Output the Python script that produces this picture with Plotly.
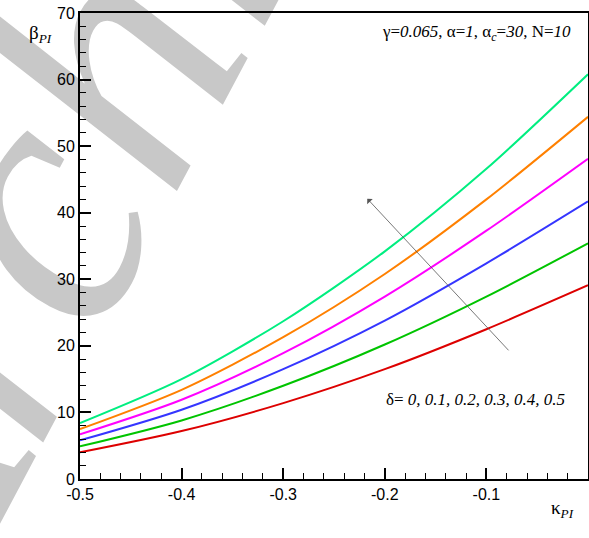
import plotly.graph_objects as go

kappa = [-0.5, -0.4, -0.3, -0.2, -0.1, 0.0]
beta_d00 = [4.0, 7.2, 11.4, 16.5, 22.5, 29.1]
beta_d01 = [4.9, 8.8, 14.0, 20.2, 27.4, 35.4]
beta_d02 = [5.8, 10.4, 16.5, 23.8, 32.4, 41.7]
beta_d03 = [6.7, 11.9, 18.9, 27.4, 37.3, 48.1]
beta_d04 = [7.5, 13.4, 21.3, 30.8, 42.0, 54.4]
beta_d05 = [8.4, 15.0, 23.7, 34.2, 46.6, 60.8]

series = [beta_d00, beta_d01, beta_d02, beta_d03, beta_d04, beta_d05]
names = ["δ=0", "δ=0.1", "δ=0.2", "δ=0.3", "δ=0.4", "δ=0.5"]
colors = ["#dd0000", "#00c400", "#3535ff", "#ff00ff", "#ff8000", "#00ee80"]

fig = go.Figure()

W, H = 589, 538
L, R, T, B = 80, 1, 13, 59
pw, ph = W - L - R, H - T - B

def px(x):
    return (x - L) / pw

def py(y):
    return 1 - (y - T) / ph

# watermark (drawn beneath axes and curves)
wx, wy = px(51), py(86)
fig.add_shape(
    type="rect", xref="paper", yref="paper",
    x0=wx - 0.001, x1=wx + 0.001, y0=wy - 0.001, y1=wy + 0.001,
    line=dict(width=0), fillcolor="rgba(0,0,0,0)", layer="below",
    label=dict(
        text="Archive", textangle=-62, textposition="middle center",
        font=dict(family="Liberation Serif", size=360, color="#c8c8c8", style="italic"),
    ),
)

for ys, nm, c in zip(series, names, colors):
    fig.add_trace(go.Scatter(
        x=kappa, y=ys, mode="lines", name=nm,
        line=dict(color=c, width=2, shape="spline", smoothing=0.8),
        showlegend=False,
    ))

fig.update_xaxes(
    range=[-0.5, 0], tickvals=[-0.5, -0.4, -0.3, -0.2, -0.1, 0],
    ticktext=["-0.5", "-0.4", "-0.3", "-0.2", "-0.1", "0"],
    ticks="inside", ticklen=11, tickwidth=2, tickcolor="black",
    minor=dict(dtick=0.02, ticks="inside", ticklen=6, tickwidth=1, tickcolor="black"),
    showline=True, linecolor="black", linewidth=2, mirror=True,
    showgrid=False, zeroline=False, automargin=False,
    tickfont=dict(family="Liberation Sans", size=16, color="black"),
)
fig.update_yaxes(
    range=[0, 70], tickvals=[0, 10, 20, 30, 40, 50, 60, 70],
    ticks="inside", ticklen=11, tickwidth=2, tickcolor="black",
    minor=dict(dtick=2, ticks="inside", ticklen=6, tickwidth=1, tickcolor="black"),
    showline=True, linecolor="black", linewidth=2, mirror=True,
    showgrid=False, zeroline=False, automargin=False,
    tickfont=dict(family="Liberation Sans", size=16, color="black"),
)

serif = "Liberation Serif"
fig.add_annotation(
    text="β<sub><i>PI</i></sub>", xref="paper", yref="paper",
    x=px(27), y=py(20), showarrow=False,
    font=dict(family=serif, size=19, color="black"),
)
fig.add_annotation(
    text="κ<sub><i>PI</i></sub>", xref="paper", yref="paper",
    x=px(576), y=py(523), showarrow=False,
    font=dict(family=serif, size=19, color="black"),
)
fig.add_annotation(
    text="γ=<i>0.065</i>, α=<i>1</i>, α<sub><i>c</i></sub>=<i>30</i>, N=<i>10</i>",
    xref="paper", yref="paper", x=px(573), y=py(33),
    xanchor="right", yanchor="middle", showarrow=False,
    font=dict(family=serif, size=17, color="black"),
)
fig.add_annotation(
    text="δ= <i>0, 0.1, 0.2, 0.3, 0.4, 0.5</i>",
    xref="paper", yref="paper", x=px(567), y=py(399),
    xanchor="right", yanchor="middle", showarrow=False,
    font=dict(family=serif, size=17, color="black"),
)
# direction arrow (increasing delta)
fig.add_annotation(
    x=-0.2172, y=42.1, ax=-0.0768, ay=19.1,
    xref="x", yref="y", axref="x", ayref="y",
    showarrow=True, arrowhead=1, arrowsize=1.6, arrowwidth=0.8,
    arrowcolor="#555555", text="",
)

fig.update_layout(
    width=W, height=H,
    margin=dict(l=L, r=R, t=T, b=B),
    paper_bgcolor="white", plot_bgcolor="rgba(0,0,0,0)",
)

fig.write_html(
    "out.html",
    config={"displayModeBar": False},
    post_script="document.body.style.margin='0';document.body.style.overflow='hidden';",
)
